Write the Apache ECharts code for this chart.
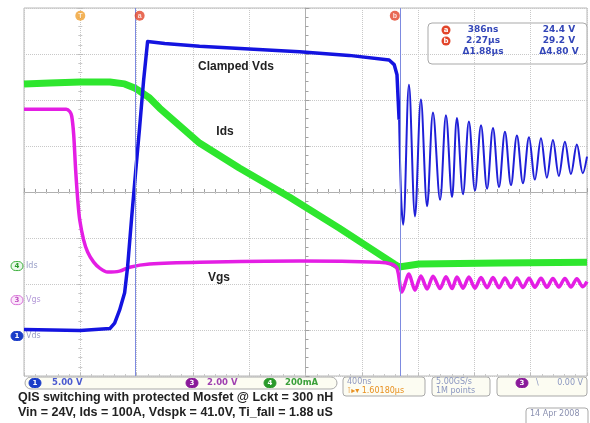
<!DOCTYPE html>
<html>
<head>
<meta charset="utf-8">
<title>QIS switching with protected Mosfet</title>
<script src="https://cdn.jsdelivr.net/npm/echarts@6/dist/echarts.min.js"></script>
<style>
  html, body { margin: 0; padding: 0; background: #fff; }
  #chart { width: 590px; height: 423px; }
</style>
</head>
<body>
<div id="chart"></div>
<script>
// scope: 400 ns/div, trigger at t = 0, time in µs
const timeMin = -0.4
const timeMax = 3.6
const timeStep = 0.4

// channel 1: Vds (5 V/div)
const vdsTime = [-0.40, 0.00, 0.21, 0.244, 0.279, 0.315, 0.336, 0.365, 0.393, 0.421, 0.45, 0.478, 0.60, 0.847, 1.20, 1.557, 1.91, 2.194, 2.23, 2.25, 2.265, 2.28, 2.294,
  2.335, 2.378, 2.42, 2.464, 2.506, 2.556, 2.598, 2.641, 2.676, 2.719, 2.761, 2.804, 2.847, 2.89, 2.932, 2.975, 3.017, 3.06, 3.102, 3.145, 3.188, 3.23, 3.273, 3.315, 3.358, 3.40, 3.443, 3.486, 3.528, 3.57, 3.60]
const vdsVolts = [0.7, 0.6, 0.8, 1.4, 2.8, 4.7, 7.5, 12.9, 17.8, 22.6, 27.8, 32.0, 31.8, 31.5, 31.2, 30.9, 30.5, 30.0, 29.5, 28.4, 23.5, 14.8, 12.1,
  27.3, 13.0, 25.7, 14.1, 24.3, 14.8, 24.0, 15.1, 23.7, 15.4, 23.3, 15.8, 22.9, 16.0, 22.6, 16.2, 22.2, 16.4, 21.8, 16.6, 21.6, 17.0, 21.5, 17.2, 21.3, 17.4, 21.1, 17.6, 20.8, 17.7, 19.5]
const vdsRingStart = 2.265 // after this the trace rings

// channel 3: Vgs (2 V/div)
const vgsTime = [-0.40, -0.10, -0.075, -0.061, -0.047, -0.033, -0.018, -0.004, 0.024, 0.052, 0.095, 0.138, 0.194, 0.279, 0.35, 0.492, 0.847, 1.557, 2.123, 2.208, 2.25, 2.285,
  2.335, 2.378, 2.42, 2.464, 2.506, 2.556, 2.598, 2.641, 2.676, 2.719, 2.761, 2.804, 2.847, 2.89, 2.932, 2.975, 3.017, 3.06, 3.102, 3.145, 3.188, 3.23, 3.273, 3.315, 3.358, 3.40, 3.443, 3.486, 3.528, 3.57, 3.60]
const vgsVolts = [8.3, 8.3, 8.2, 8.0, 7.2, 5.65, 4.35, 3.48, 2.61, 2.09, 1.65, 1.39, 1.22, 1.26, 1.43, 1.57, 1.65, 1.70, 1.65, 1.57, 1.39, 0.35,
  1.13, 0.43, 1.05, 0.48, 1.04, 0.5, 1.02, 0.5, 1.0, 0.52, 1.0, 0.52, 0.98, 0.54, 0.98, 0.54, 0.96, 0.55, 0.96, 0.55, 0.95, 0.56, 0.95, 0.56, 0.94, 0.57, 0.94, 0.57, 0.93, 0.58, 0.8]

// channel 4: Ids (200 mA/div)
const idsTime = [-0.40, -0.217, 0.00, 0.21, 0.315, 0.386, 0.421, 0.492, 0.563, 0.847, 1.13, 1.485, 1.84, 2.123, 2.23, 2.265, 2.407, 2.975, 3.60]
const idsMilliamps = [792, 796, 800, 800, 792, 774, 761, 731, 687, 535, 426, 300, 165, 52, 9, -4, 9, 13, 17]

// cursors a / b
const cursorTimes = [0.386, 2.27]
const cursorLabels = ['a', 'b']

// channel settings: units per div, ground position in div
const channels = {
  vds: { scale: 5, pos: -3.13 },
  vgs: { scale: 2, pos: -2.35 },
  ids: { scale: 200, pos: -1.61 }
}

const grid = { left: 24, top: 8, width: 563, height: 368 }
const divPx = grid.height / 8
const groundY = pos => grid.top + (4 - pos) * divPx

const toDiv = (times, values, ch) => times.map((t, i) => [t, values[i] / ch.scale + ch.pos])
const vdsData = toDiv(vdsTime, vdsVolts, channels.vds)
const vdsEdge = vdsData.filter(p => p[0] <= vdsRingStart)
const vdsRing = vdsData.filter(p => p[0] >= vdsRingStart)

const uiFont = '"DejaVu Sans", sans-serif'
const capFont = 'bold 12.5px "Liberation Sans", Arial, sans-serif'
const badge = (cx, cy, fill, txt, txtColor, stroke) => [
  { type: 'rect', shape: { x: cx - 6, y: cy - 4.5, width: 12, height: 9, r: 4.5 }, style: { fill: fill, stroke: stroke || fill, lineWidth: 1 } },
  { type: 'text', style: { x: cx, y: cy, text: txt, fill: txtColor, font: 'bold 7px ' + uiFont, align: 'center', verticalAlign: 'middle', textAlign: 'center', textVerticalAlign: 'middle' } }
]
const label = (x, y, txt, color, font, align) => ({
  type: 'text',
  style: { x: x, y: y, text: txt, fill: color, font: font, align: align || 'left', verticalAlign: 'middle', textAlign: align || 'left', textVerticalAlign: 'middle' }
})
const box = (x, y, w, h, r, fill) => ({
  type: 'rect', shape: { x: x, y: y, width: w, height: h, r: r }, style: { fill: fill || '#fff', stroke: '#a9a9a9', lineWidth: 1 }
})

const graphic = [].concat(
  // trace names
  label(236, 67, 'Clamped Vds', '#222', 'bold 12px "Liberation Sans", Arial, sans-serif', 'center'),
  label(225, 132, 'Ids', '#222', 'bold 12px "Liberation Sans", Arial, sans-serif', 'center'),
  label(219, 278, 'Vgs', '#222', 'bold 12px "Liberation Sans", Arial, sans-serif', 'center'),
  // ground markers on the left
  badge(17, groundY(channels.ids.pos), '#eaf8ea', '4', '#2a9a2a', '#3cb03c'),
  label(26, groundY(channels.ids.pos), 'Ids', '#9aa0c8', '8px ' + uiFont),
  badge(17, groundY(channels.vgs.pos), '#fbe8fb', '3', '#c050c0', '#d870d8'),
  label(26, groundY(channels.vgs.pos), 'Vgs', '#b49ad8', '8px ' + uiFont),
  badge(17, groundY(channels.vds.pos), '#1a3cc8', '1', '#fff'),
  label(26, groundY(channels.vds.pos), 'Vds', '#9aa0c8', '8px ' + uiFont),
  // cursor readout
  box(428, 23, 159, 41, 4),
  { type: 'circle', shape: { cx: 446, cy: 30, r: 4.5 }, style: { fill: '#e2452a' } },
  label(446, 30, 'a', '#fff', 'bold 7px ' + uiFont, 'center'),
  { type: 'circle', shape: { cx: 446, cy: 41, r: 4.5 }, style: { fill: '#e2452a' } },
  label(446, 41, 'b', '#fff', 'bold 7px ' + uiFont, 'center'),
  label(483, 30, '386ns', '#3346b8', 'bold 9px ' + uiFont, 'center'),
  label(483, 41, '2.27µs', '#3346b8', 'bold 9px ' + uiFont, 'center'),
  label(483, 52, 'Δ1.88µs', '#3346b8', 'bold 9px ' + uiFont, 'center'),
  label(559, 30, '24.4 V', '#3346b8', 'bold 9px ' + uiFont, 'center'),
  label(559, 41, '29.2 V', '#3346b8', 'bold 9px ' + uiFont, 'center'),
  label(559, 52, 'Δ4.80 V', '#3346b8', 'bold 9px ' + uiFont, 'center'),
  // status bar
  box(25, 377, 312, 12, 6, '#fcfcf2'),
  badge(35, 383, '#1a3cc8', '1', '#fff'),
  label(52, 383, '5.00 V', '#4a5ad0', 'bold 8.5px ' + uiFont),
  badge(192, 383, '#8a1a9a', '3', '#fff'),
  label(207, 383, '2.00 V', '#a040b0', 'bold 8.5px ' + uiFont),
  badge(270, 383, '#2a9a2a', '4', '#fff'),
  label(285, 383, '200mA', '#3aa03a', 'bold 8.5px ' + uiFont),
  box(343, 377, 82, 19, 3, '#fcfcf2'),
  label(347, 382, '400ns', '#9098c0', '8px ' + uiFont),
  label(347, 391, '⊺▸▾ 1.60180µs', '#e89020', '8px ' + uiFont),
  box(432, 377, 58, 19, 3, '#fcfcf2'),
  label(436, 382, '5.00GS/s', '#8a96c0', '8px ' + uiFont),
  label(436, 391, '1M points', '#8a96c0', '8px ' + uiFont),
  box(497, 377, 90, 19, 3, '#fcfcf2'),
  badge(522, 383, '#8a1a9a', '3', '#fff'),
  label(536, 383, '\\', '#8a96c0', '8px ' + uiFont),
  label(583, 383, '0.00 V', '#8a96c0', '8px ' + uiFont, 'right'),
  // captions
  label(18, 398, 'QIS switching with protected Mosfet @ Lckt = 300 nH', '#222', capFont),
  label(18, 413, 'Vin = 24V, Ids = 100A, Vdspk = 41.0V, Ti_fall = 1.88 uS', '#222', capFont),
  box(526, 408, 62, 20, 3),
  label(530, 414, '14 Apr 2008', '#8a90b0', '8px ' + uiFont)
)

// ticks drawn along the screen border
const borderTicks = {
  axisLine: { show: false },
  axisTick: { show: true, inside: true, length: 3, lineStyle: { color: '#bdbdbd' } },
  minorTick: { show: true, splitNumber: 5, length: 2, lineStyle: { color: '#c8c8c8' } },
  axisLabel: { show: false },
  splitLine: { show: false }
}

const chart = echarts.init(document.getElementById('chart'))

chart.setOption({
  animation: false,
  backgroundColor: '#fff',
  grid: { ...grid, show: true, borderColor: '#b8b8b8', borderWidth: 1 },
  xAxis: [
    {
      type: 'value',
      min: timeMin,
      max: timeMax,
      interval: timeStep,
      axisLine: { onZero: true, onZeroAxisIndex: 0, lineStyle: { color: '#b0b0b0' } },
      axisTick: { show: true, inside: true, length: 4, lineStyle: { color: '#a0a0a0' } },
      minorTick: { show: true, splitNumber: 5, length: 3, lineStyle: { color: '#a0a0a0' } },
      axisLabel: { show: false },
      splitLine: { show: true, lineStyle: { color: '#c8c8c8', type: 'dotted' } }
    },
    { type: 'value', min: -5, max: 5, show: false },
    { type: 'value', position: 'top', min: timeMin, max: timeMax, interval: timeStep, ...borderTicks },
    { type: 'value', position: 'bottom', min: timeMin, max: timeMax, interval: timeStep, ...borderTicks }
  ],
  yAxis: [
    {
      type: 'value',
      min: -4,
      max: 4,
      interval: 1,
      axisLine: { show: true, onZero: true, onZeroAxisIndex: 1, lineStyle: { color: '#b0b0b0' } },
      axisTick: { show: true, inside: true, length: 4, lineStyle: { color: '#a0a0a0' } },
      minorTick: { show: true, splitNumber: 5, length: 3, lineStyle: { color: '#a0a0a0' } },
      axisLabel: { show: false },
      splitLine: { show: true, lineStyle: { color: '#c8c8c8', type: 'dotted' } }
    },
    { type: 'value', position: 'left', min: -4, max: 4, interval: 1, ...borderTicks },
    { type: 'value', position: 'right', min: -4, max: 4, interval: 1, ...borderTicks }
  ],
  series: [
    {
      name: 'Ids',
      type: 'line',
      data: toDiv(idsTime, idsMilliamps, channels.ids),
      showSymbol: false,
      lineStyle: { color: '#2ee62e', width: 7, join: 'round' },
      z: 2
    },
    {
      name: 'Vgs',
      type: 'line',
      data: toDiv(vgsTime, vgsVolts, channels.vgs),
      showSymbol: false,
      smooth: 0.3,
      lineStyle: { color: '#e41ee4', width: 3.5, join: 'round' },
      z: 3
    },
    {
      name: 'Vds',
      type: 'line',
      data: vdsEdge,
      showSymbol: false,
      lineStyle: { color: '#1414e0', width: 3.5, join: 'round' },
      z: 4
    },
    {
      name: 'Vds',
      type: 'line',
      data: vdsRing,
      showSymbol: false,
      smooth: 0.35,
      lineStyle: { color: '#1f1fd8', width: 2, join: 'round' },
      z: 4
    },
    {
      name: 'cursors',
      type: 'scatter',
      symbol: 'circle',
      symbolSize: 10,
      data: cursorTimes.map((t, i) => ({
        value: [t, 3.83],
        symbolOffset: [i === 0 ? 5 : -5, 0],
        label: { formatter: cursorLabels[i] }
      })).concat([{ value: [0, 3.83], itemStyle: { color: '#f0a030' }, label: { formatter: 'T' } }]),
      itemStyle: { color: '#e2452a' },
      label: { show: true, position: 'inside', color: '#fff', fontSize: 7, fontWeight: 'bold' },
      markLine: {
        silent: true,
        symbol: 'none',
        label: { show: false },
        lineStyle: { color: '#7d8ae0', width: 1, type: 'solid' },
        data: cursorTimes.map(t => ({ xAxis: t }))
      },
      z: 5
    }
  ],
  graphic: graphic
})
</script>
</body>
</html>
